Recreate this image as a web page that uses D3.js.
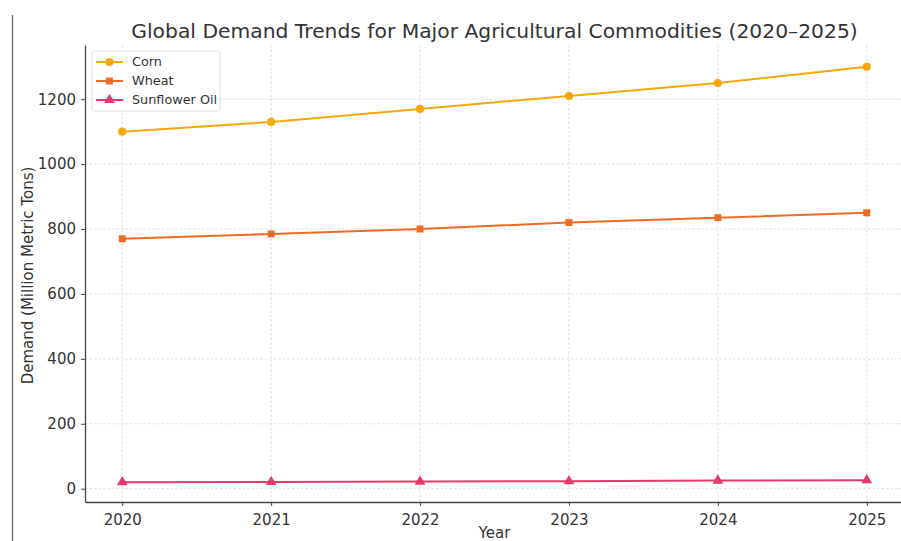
<!DOCTYPE html>
<html>
<head>
<meta charset="utf-8">
<script src="https://cdn.jsdelivr.net/npm/d3@7/dist/d3.min.js"></script>
<style>
  html, body { margin: 0; padding: 0; background: #fff; }
  svg { display: block; font-family: "DejaVu Sans", sans-serif; }
</style>
</head>
<body>
<svg id="chart" width="901" height="541"></svg>
<script>
// Demand data, million metric tons
const years = [2020, 2021, 2022, 2023, 2024, 2025];
const corn = [1100, 1130, 1170, 1210, 1250, 1300];
const wheat = [770, 785, 800, 820, 835, 850];
const sunflowerOil = [20, 21, 22, 23, 25, 26];
const yTicks = [0, 200, 400, 600, 800, 1000, 1200];

const seriesNames = ["Corn", "Wheat", "Sunflower Oil"];
const seriesColors = ["#f7a70c", "#f06a24", "#e8386a"];
const seriesMarkers = [d3.symbolCircle, d3.symbolSquare, d3.symbolTriangle];
const seriesSizes = [52, 48, 50];

const series = [corn, wheat, sunflowerOil].map((vals, i) => ({
  name: seriesNames[i],
  color: seriesColors[i],
  marker: seriesMarkers[i],
  size: seriesSizes[i],
  points: years.map((yr, j) => ({ year: yr, value: vals[j] }))
}));

const svg = d3.select("#chart");
const plotL = 85, plotR = 904, plotT = 45, plotB = 502;

const x = d3.scaleLinear().domain([2019.75, 2025.25]).range([plotL, plotR]);
const y = d3.scaleLinear().domain([-41, 1367]).range([plotB, plotT]);

// frame line on the far left
svg.append("line")
  .attr("x1", 12.5).attr("x2", 12.5).attr("y1", 15).attr("y2", 541)
  .attr("stroke", "#666").attr("stroke-width", 1.3);

// grid
const grid = svg.append("g");
grid.selectAll(".gx").data(years).join("line")
  .attr("x1", d => x(d)).attr("x2", d => x(d))
  .attr("y1", plotT).attr("y2", plotB)
  .attr("stroke", "#d6d6d6").attr("stroke-width", 0.8)
  .attr("stroke-dasharray", "2.5,2");
grid.selectAll(".gy").data(yTicks).join("line")
  .attr("x1", plotL).attr("x2", plotR)
  .attr("y1", d => y(d)).attr("y2", d => y(d))
  .attr("stroke", "#d6d6d6").attr("stroke-width", 0.8)
  .attr("stroke-dasharray", "2.5,2");

// axes
const xAxis = svg.append("g")
  .attr("transform", `translate(0,${plotB})`)
  .call(d3.axisBottom(x).tickValues(years).tickFormat(d3.format("d"))
    .tickSizeInner(4).tickSizeOuter(0).tickPadding(5));
const yAxis = svg.append("g")
  .attr("transform", `translate(${plotL},0)`)
  .call(d3.axisLeft(y).tickValues(yTicks).tickFormat(d3.format("d"))
    .tickSizeInner(4).tickSizeOuter(0).tickPadding(5));

[xAxis, yAxis].forEach(a => {
  a.select(".domain").attr("stroke", "#444").attr("stroke-width", 1.3);
  a.selectAll(".tick line").attr("stroke", "#444").attr("stroke-width", 1);
  a.selectAll(".tick text")
    .attr("fill", "#333")
    .style("font-family", "'DejaVu Sans', sans-serif")
    .style("font-size", "15px");
});
xAxis.selectAll(".tick text").attr("dy", "0.9em");

// series lines and markers
const line = d3.line().x(d => x(d.year)).y(d => y(d.value));
series.forEach(s => {
  svg.append("path")
    .datum(s.points)
    .attr("d", line)
    .attr("fill", "none")
    .attr("stroke", s.color)
    .attr("stroke-width", 2);
  svg.append("g").selectAll("path").data(s.points).join("path")
    .attr("transform", d => `translate(${x(d.year)},${y(d.value)})`)
    .attr("d", d3.symbol().type(s.marker).size(s.size))
    .attr("fill", s.color);
});

// title and axis labels
svg.append("text")
  .attr("x", (plotL + plotR) / 2).attr("y", 38)
  .attr("text-anchor", "middle")
  .attr("fill", "#333")
  .style("font-size", "20.3px")
  .text("Global Demand Trends for Major Agricultural Commodities (2020–2025)");

svg.append("text")
  .attr("x", (plotL + plotR) / 2).attr("y", 538)
  .attr("text-anchor", "middle")
  .attr("fill", "#333")
  .style("font-size", "15px")
  .text("Year");

svg.append("text")
  .attr("transform", `translate(33,${(plotT + plotB) / 2 + 2}) rotate(-90)`)
  .attr("text-anchor", "middle")
  .attr("fill", "#333")
  .style("font-size", "15px")
  .text("Demand (Million Metric Tons)");

// legend
const legend = svg.append("g").attr("transform", "translate(92,51)");
legend.append("rect")
  .attr("width", 128).attr("height", 60).attr("rx", 3)
  .attr("fill", "#fff").attr("fill-opacity", 0.85)
  .attr("stroke", "#ddd").attr("stroke-width", 1);
series.forEach((s, i) => {
  const row = legend.append("g").attr("transform", `translate(0,${11 + i * 19})`);
  row.append("line")
    .attr("x1", 4).attr("x2", 31).attr("y1", 0).attr("y2", 0)
    .attr("stroke", s.color).attr("stroke-width", 2);
  row.append("path")
    .attr("transform", "translate(17.5,0)")
    .attr("d", d3.symbol().type(s.marker).size(s.size))
    .attr("fill", s.color);
  row.append("text")
    .attr("x", 40).attr("y", 0).attr("dy", "0.35em")
    .attr("fill", "#333")
    .style("font-size", "12.8px")
    .text(s.name);
});
</script>
</body>
</html>
